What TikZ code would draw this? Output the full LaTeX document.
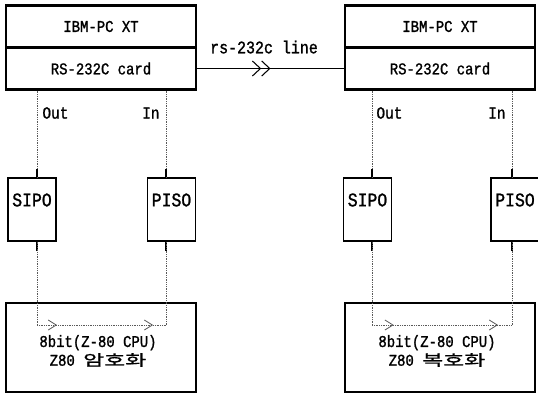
\documentclass[tikz,border=0pt]{standalone}
\usepackage{fontspec}
\setmainfont[FakeStretch=0.85,FakeBold=1.2]{Liberation Mono}
\newfontfamily\kfont[FakeStretch=1.5,FakeBold=1]{Noto Sans CJK KR}
\usetikzlibrary{arrows.meta,decorations.markings}

\begin{document}
\begin{tikzpicture}[x=0.03cm,y=-0.03cm,line width=.5pt,
  pcbox/.style={draw,line width=2pt,minimum width=5.7cm,minimum height=1.26cm,inner sep=0pt,font=\fontsize{14}{16}\selectfont},
  regbox/.style={draw,line width=1.1pt,minimum width=1.44cm,minimum height=1.89cm,inner sep=0pt},
  cpubox/.style={draw,line width=2.4pt,minimum width=5.7cm,minimum height=2.67cm},
  cputext/.style={inner sep=0pt,align=center,font=\fontsize{14}{16}\selectfont},
  regtext/.style={inner sep=0pt,font=\fontsize{16.5}{18}\selectfont},
  iolabel/.style={inner sep=1pt,font=\fontsize{14.5}{16}\selectfont},
  sigline/.style={densely dotted,line width=.5pt,black!65},
  stub/.style={line width=1.1pt},
  flow/.style={postaction={decorate},decoration={markings,
    mark=at position .155 with {\arrow{Straight Barb[length=.24cm,width=.3cm,line width=.7pt]}},
    mark=at position .9 with {\arrow{Straight Barb[length=.24cm,width=.3cm,line width=.7pt]}}}},
  linkarrow/.style={postaction={decorate},decoration={markings,
    mark=at position .5 with {\arrow{Straight Barb[length=.24cm,width=.45cm,line width=.9pt] Straight Barb[length=.24cm,width=.45cm,line width=.9pt]}}}}]
\useasboundingbox (0,0) rectangle (538,395);
% personal computers
\node[pcbox] (pcA) at (101,26.5) {IBM-PC XT};
\node[pcbox] (cardA) at (101,68.5) {RS-232C card};
\node[pcbox] (pcB) at (440,26.5) {IBM-PC XT};
\node[pcbox] (cardB) at (440,68.5) {RS-232C card};
% shift registers
\node[regbox] (sipoA) at (32,209.5) {};
\node[regbox] (pisoA) at (171.5,209.5) {};
\node[regbox] (sipoB) at (367.5,209.5) {};
\node[regbox] (pisoB) at (515,209.5) {};
\node[regtext] (sipoAtxt) at (32,200) {SIPO};
\node[regtext] (pisoAtxt) at (171.5,200) {PISO};
\node[regtext] (sipoBtxt) at (367.5,200) {SIPO};
\node[regtext] (pisoBtxt) at (515,200) {PISO};
% Z-80 boards
\node[cpubox] (cpuA) at (101,347.5) {};
\node[cpubox] (cpuB) at (440,347.5) {};
\node[cputext] (cpuAtxt) at (98,351) {8bit(Z-80 CPU)\\Z80 {\kfont\fontsize{13}{14}\selectfont 암호화}};
\node[cputext] (cpuBtxt) at (437,351) {8bit(Z-80 CPU)\\Z80 {\kfont\fontsize{13}{14}\selectfont 복호화}};
% line columns
\coordinate (outA) at (37,0);
\coordinate (inA) at (166,0);
\coordinate (outB) at (372,0);
\coordinate (inB) at (512,0);
\coordinate (loop) at (0,325);
% serial link
\draw[line width=.9pt,linkarrow] (cardA.east) -- (cardB.west);
\node[inner sep=0pt,font=\fontsize{15}{17}\selectfont] (link) at (264,47) {rs-232c line};
% signal paths
\foreach \s/\o/\i/\c/\p/\q in {A/outA/inA/cardA/sipoA/pisoA,B/outB/inB/cardB/sipoB/pisoB}{
  \draw[sigline] (\c.south -| \o) -- (\p.north -| \o);
  \draw[sigline] (\c.south -| \i) -- (\q.north -| \i);
  \draw[stub] (\p.north -| \o) -- ++(0,-8);
  \draw[stub] (\q.north -| \i) -- ++(0,-8);
  \draw[stub] (\p.south -| \o) -- ++(0,9);
  \draw[stub] (\q.south -| \i) -- ++(0,9);
  \draw[sigline] (\p.south -| \o) -- (\o |- loop);
  \draw[sigline,flow] (\o |- loop) -- (\i |- loop);
  \draw[sigline] (\i |- loop) -- (\q.south -| \i);
}
\node[iolabel,anchor=west] (oA) at (41,113) {Out};
\node[iolabel,anchor=east] (iA) at (161,113) {In};
\node[iolabel,anchor=west] (oB) at (375,113) {Out};
\node[iolabel,anchor=east] (iB) at (507,113) {In};
\end{tikzpicture}
\end{document}
